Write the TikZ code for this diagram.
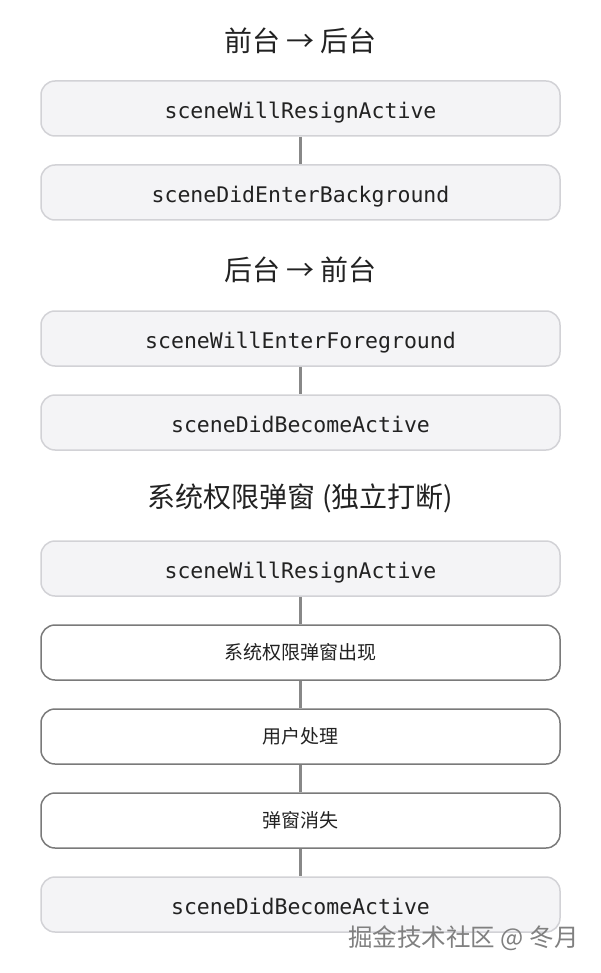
\documentclass[tikz,border=0pt]{standalone}
\usepackage{fontspec}
\setmainfont{Noto Sans CJK SC}
\setmonofont{DejaVu Sans Mono}
\usetikzlibrary{positioning}
\definecolor{boxfill}{HTML}{F4F4F6}
\definecolor{boxline}{HTML}{D2D2D6}
\definecolor{stepline}{HTML}{7A7A7A}
\definecolor{linkgray}{HTML}{888888}
\definecolor{titlegray}{HTML}{222222}
\tikzset{
  cb/.style={draw=boxline,fill=boxfill,line width=1.5pt,rounded corners=14pt,
    minimum width=519pt,minimum height=55pt,inner sep=0pt,
    text height=20pt,text depth=0pt,
    font=\fontsize{21.5}{24}\selectfont\ttfamily,text=titlegray},
  stepbox/.style={draw=stepline,fill=white,line width=1.5pt,rounded corners=14pt,
    minimum width=519pt,minimum height=55pt,inner sep=0pt,
    font=\fontsize{19}{22}\selectfont,text=titlegray},
  phase/.style={font=\fontsize{28}{32}\selectfont,text=titlegray,inner sep=0pt},
  link/.style={draw=linkgray,line width=3pt}
}
\begin{document}
\begin{tikzpicture}[x=1pt,y=-1pt]
\useasboundingbox (0,0) rectangle (601,973);
% foreground -> background
\node[phase] (t1) at (300.5,41) {前台 → 后台};
\node[cb] (fb1) at (300.5,108.5) {sceneWillResignActive};
\node[cb] (fb2) at (300.5,192.5) {sceneDidEnterBackground};
\draw[link] (fb1) -- (fb2);
% background -> foreground
\node[phase] (t2) at (300.5,270) {后台 → 前台};
\node[cb] (bf1) at (300.5,338.5) {sceneWillEnterForeground};
\node[cb] (bf2) at (300.5,422.5) {sceneDidBecomeActive};
\draw[link] (bf1) -- (bf2);
% permission alert
\node[phase] (t3) at (300.5,498) {系统权限弹窗 (独立打断)};
\node[cb] (pa1) at (300.5,568.5) {sceneWillResignActive};
\node[stepbox] (pa2) at (300.5,652.5) {系统权限弹窗出现};
\node[stepbox] (pa3) at (300.5,736.5) {用户处理};
\node[stepbox] (pa4) at (300.5,820.5) {弹窗消失};
\node[cb] (pa5) at (300.5,904.5) {sceneDidBecomeActive};
\draw[link] (pa1) -- (pa2);
\draw[link] (pa2) -- (pa3);
\draw[link] (pa3) -- (pa4);
\draw[link] (pa4) -- (pa5);
\node[font=\fontsize{24.5}{28}\selectfont,text=gray,inner sep=0pt] (wm) at (463.5,938) {掘金技术社区 @ 冬月};
\end{tikzpicture}
\end{document}
